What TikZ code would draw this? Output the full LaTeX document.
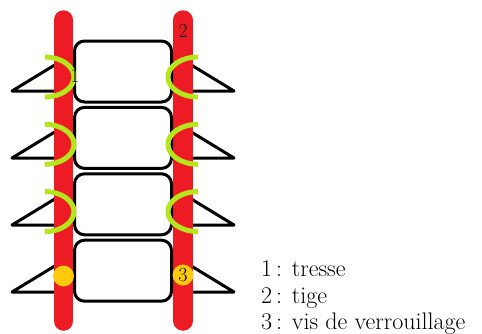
\documentclass[tikz,border=0pt]{standalone}
\usepackage{tikz}
\definecolor{rodred}{HTML}{ED1C24}
\definecolor{braidgreen}{HTML}{B5E61D}
\definecolor{screwgold}{HTML}{FFC90E}
\begin{document}
\begin{tikzpicture}[x=1pt,y=-1pt,
  rod/.style={line width=19.5pt,draw=rodred,line cap=round},
  fin/.style={draw=black,line width=3pt,line join=round},
  cell/.style={draw=black,line width=3pt,rounded corners=10pt,fill=white},
  braid/.style={draw=braidgreen,line width=5pt},
  screw/.style={circle,fill=screwgold,minimum size=21pt,inner sep=0pt},
  num/.style={font=\fontsize{20}{22}\selectfont,inner sep=0pt},
  legend/.style={font=\fontsize{24}{26.5}\selectfont,align=left,anchor=base west,inner sep=0pt}]
\useasboundingbox (0,0) rectangle (482,333);

% triangular fins behind the rods
\foreach \i in {0,1,2,3}{
  \pgfmathsetmacro{\yb}{91+67*\i}
  \pgfmathsetmacro{\yt}{\yb-28}
  \draw[fin] (58,\yt) -- (12,\yb) -- (58,\yb);
  \draw[fin] (188,\yt) -- (234,\yb) -- (188,\yb);
}

% the two vertical rods
\coordinate (ltop) at (63.5,20);
\coordinate (lbot) at (63.5,321);
\coordinate (rtop) at (183,20);
\coordinate (rbot) at (183,321);
\draw[rod] (ltop) -- (lbot);
\draw[rod] (rtop) -- (rbot);

% the stacked cells between the rods
\foreach \i in {0,1,2,3}{
  \pgfmathsetmacro{\yt}{41+66.4*\i}
  \draw[cell] (74.5,\yt) rectangle (171.5,\yt+61);
}

% braid clips on the upper three levels (y axis points down)
\foreach \i in {0,1,2}{
  \pgfmathsetmacro{\yc}{77+67.3*\i}
  \draw[braid] (45,\yc-20) arc[start angle=-90,end angle=90,x radius=29,y radius=20];
  \draw[braid] (198,\yc-20) arc[start angle=-90,end angle=-270,x radius=30,y radius=20];
}

% locking screws on the lowest level
\node[screw] (sl) at (63.5,276) {};
\node[screw] (sr) at (183,275) {};

% reference numbers
\node[num] (n1) at (75,76) {1};
\node[num] (n2) at (183,31) {2};
\node[num] (n3) at (sr) {3};

% key
\node[legend] (key1) at (261,276.5) {1\thinspace: tresse};
\node[legend] (key2) at (261,303) {2\thinspace: tige};
\node[legend] (key3) at (261,329.5) {3\thinspace: vis de verrouillage};
\end{tikzpicture}
\end{document}
